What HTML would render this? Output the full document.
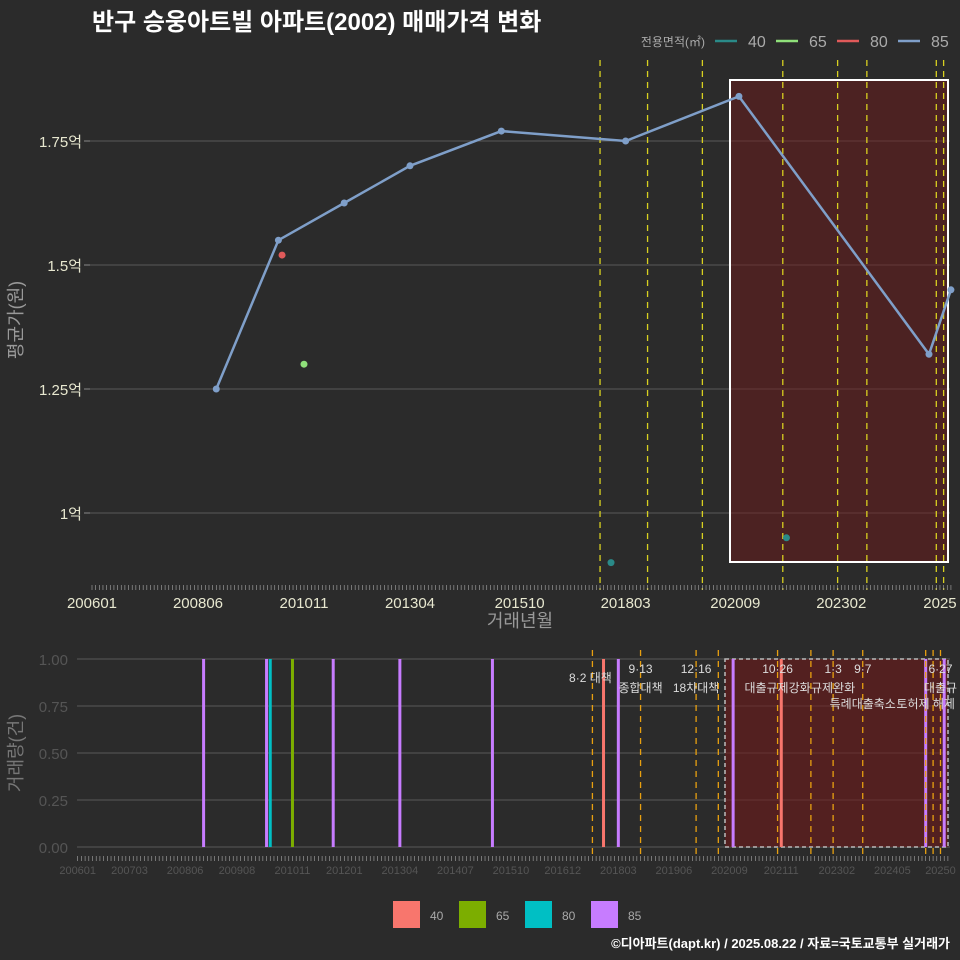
<!DOCTYPE html>
<html><head><meta charset="utf-8">
<style>
html,body{margin:0;padding:0;background:#2b2b2b;}
svg{display:block;font-family:"Liberation Sans","Noto Sans CJK KR",sans-serif;}
</style></head>
<body>
<svg id="c" width="960" height="960" viewBox="0 0 960 960">
<rect x="0" y="0" width="960" height="960" fill="#2b2b2b"/>
<text x="92" y="30" fill="#ffffff" font-size="24" font-weight="bold">반구 승웅아트빌 아파트(2002) 매매가격 변화</text>
<text x="950" y="948" fill="#ffffff" font-size="13" font-weight="bold" text-anchor="end">©디아파트(dapt.kr) / 2025.08.22 / 자료=국토교통부 실거래가</text>
<g id="topg"></g>
<g id="botg"></g>
</svg>
<script>
// ---- data ----
const priceMonths = ["200811","201004","201110","201304","201505","201803","202010","202502","202508"];
const price85 = [1.25,1.55,1.625,1.70,1.77,1.75,1.84,1.32,1.45];
const price80Months = ["201005"]; const price80 = [1.52];
const price65Months = ["201011"]; const price65 = [1.30];
const price40Months = ["201711","202111"]; const price40 = [0.90,0.95];
const yTicks = [1.0,1.25,1.5,1.75];
const yTickLabels = ["1억","1.25억","1.5억","1.75억"];
const topXLabels = ["200601","200806","201011","201304","201510","201803","202009","202302","202505"];
const topXText = ["200601","200806","201011","201304","201510","201803","202009","202302","2025"];
const policyMonths = ["201708","201809","201912","202006","202110","202207","202301","202309","202502","202504","202506"];
const volMonths = ["200811","201004","201005","201011","201110","201304","201505","201711","201803","202010","202111","202502","202507"];
const volSeries = ["85","85","80","65","85","85","85","40","85","85","40","85","85"];
const volValues = [1,1,1,1,1,1,1,1,1,1,1,1,1];
const volYTicks = [0,0.25,0.5,0.75,1];
const volYLabels = ["0.00","0.25","0.50","0.75","1.00"];
const botXLabels = ["200601","200703","200806","200908","201011","201201","201304","201407","201510","201612","201803","201906","202009","202111","202302","202405","202506"];
const botXText = ["200601","200703","200806","200908","201011","201201","201304","201407","201510","201612","201803","201906","202009","202111","202302","202405","20250"];
const policyLabels = [["8·2 대책",""],["9·13","종합대책"],["12·16","18차대책"],["",""],["10·26","대출규제강화"],["",""],["1·3","규제완화"],["9·7","특례대출축소"],["","토허제 해제"],["",""],["6·27","대출규"]];
const seriesNames = ["40","65","80","85"];
const lineColors = {"40":"#2a8a88","65":"#8fe07a","80":"#e05a5a","85":"#7f9fc9"};
const barColors = {"40":"#F8766D","65":"#7CAE00","80":"#00BFC4","85":"#C77CFF"};
// ---- helpers ----
const NS="http://www.w3.org/2000/svg";
function mk(tag,attrs,parent){const e=document.createElementNS(NS,tag);for(const k in attrs)e.setAttribute(k,attrs[k]);parent.appendChild(e);return e;}
function mi(s){return (parseInt(s.slice(0,4))-2006)*12+parseInt(s.slice(4,6))-1;}
const tx=m=>92+m*3.655;
const ty=v=>513-(v-1)*496;
const bx=m=>77.7+m*3.703;
const by=v=>847-v*188;
const topG=document.getElementById('topg'), botG=document.getElementById('botg');
// ---- top chart ----
yTicks.forEach((v,i)=>{
  let g=mk('line',{x1:90,x2:950,y1:ty(v),y2:ty(v),stroke:'#5a5a5a','stroke-width':1},topG);
  
  
  let t=mk('text',{x:82,y:ty(v)+6,fill:'#e8e8d0','font-size':15,'text-anchor':'end'},topG);
  t.textContent=yTickLabels[i];
  
  
  let tk=mk('line',{x1:84,x2:90,y1:ty(v),y2:ty(v),stroke:'#888'},topG);
  
  
});
let box=mk('rect',{x:730,y:80,width:218,height:482,fill:'rgba(110,25,25,0.5)',stroke:'#ffffff','stroke-width':2},topG);


policyMonths.forEach((m,i)=>{
  if(i===3||i===5||i===8) return;
  let l=mk('line',{x1:tx(mi(m)),x2:tx(mi(m)),y1:60,y2:590,stroke:'#d8d020','stroke-width':1.3,'stroke-dasharray':'6,5'},topG);
  
  
});
for(let m=0;m<=235;m++){
  let tk=mk('line',{x1:tx(m),x2:tx(m),y1:585,y2:590,stroke:'#aaa','stroke-width':0.6},topG);
  
  
}
topXLabels.forEach((m,i)=>{
  let t=mk('text',{x:tx(mi(m)),y:608,fill:'#e8e8d0','font-size':15,'text-anchor':'middle'},topG);
  t.textContent=topXText[i];
  
  
});
let xt=mk('text',{x:520,y:627,fill:'#999','font-size':18,'text-anchor':'middle'},topG);
xt.textContent='거래년월';


let yt=mk('text',{x:22,y:320,fill:'#999','font-size':18,'text-anchor':'middle',transform:'rotate(-90 22 320)'},topG);
yt.textContent='평균가(원)';


let pts=priceMonths.map((m,i)=>tx(mi(m))+','+ty(price85[i])).join(' ');
let pl=mk('polyline',{points:pts,fill:'none',stroke:lineColors["85"],'stroke-width':2.5},topG);


function dots(ms,vs,s){ms.forEach((m,i)=>{
  let c=mk('circle',{cx:tx(mi(m)),cy:ty(vs[i]),r:3.5,fill:lineColors[s]},topG);
  
  
});}
dots(priceMonths,price85,"85");dots(price80Months,price80,"80");dots(price65Months,price65,"65");dots(price40Months,price40,"40");
// legend top
let lt=mk('text',{x:705,y:46,fill:'#aaa','font-size':12,'text-anchor':'end'},topG);
lt.textContent='전용면적(㎡)';


seriesNames.forEach((s,i)=>{
  let x0=715+i*61;
  let l=mk('line',{x1:x0,x2:x0+22,y1:41,y2:41,stroke:lineColors[s],'stroke-width':2.5},topG);
  
  
  let t=mk('text',{x:x0+33,y:47,fill:'#aaa','font-size':16},topG);
  t.textContent=s;
  
  
});
// ---- bottom chart ----
volYTicks.forEach((v,i)=>{
  let g=mk('line',{x1:77,x2:950,y1:by(v),y2:by(v),stroke:'#5a5a5a','stroke-width':1},botG);
  
  
  let t=mk('text',{x:68,y:by(v)+6,fill:'#555','font-size':15,'text-anchor':'end'},botG);
  t.textContent=volYLabels[i];
  
  
});
let bbox=mk('rect',{x:725,y:659,width:223,height:188,fill:'rgba(110,25,25,0.6)',stroke:'#bbb','stroke-width':1.5,'stroke-dasharray':'4,3'},botG);


volMonths.forEach((m,i)=>{
  let s=volSeries[i];
  let r=mk('rect',{x:bx(mi(m))-1.5,y:by(volValues[i]),width:3,height:by(0)-by(volValues[i]),fill:barColors[s]},botG);
  
  
});
policyMonths.forEach((m,i)=>{
  let x=bx(mi(m));
  let l=mk('line',{x1:x,x2:x,y1:650,y2:857,stroke:'#e8a010','stroke-width':1.3,'stroke-dasharray':'6,5'},botG);
  
  
  const lb=policyLabels[i];
  if(lb[0]){let t=mk('text',{x:x+(i===0?-2:0),y:i===0?682:673,fill:'#ddd','font-size':12,'text-anchor':'middle'},botG);
    t.textContent=lb[0];
    
    }
  if(lb[1]){let t=mk('text',{x:x,y:i===7||i===8?708:692,fill:'#ddd','font-size':12,'text-anchor':'middle'},botG);
    t.textContent=lb[1];
    
    }
});
for(let m=0;m<=235;m++){
  let tk=mk('line',{x1:bx(m),x2:bx(m),y1:856,y2:861,stroke:'#aaa','stroke-width':0.6},botG);
  
  
}
botXLabels.forEach((m,i)=>{
  let t=mk('text',{x:bx(mi(m)),y:874,fill:'#555','font-size':11,'text-anchor':'middle'},botG);
  t.textContent=botXText[i];
  
  
});
let vyt=mk('text',{x:22,y:753,fill:'#777','font-size':18,'text-anchor':'middle',transform:'rotate(-90 22 753)'},botG);
vyt.textContent='거래량(건)';


seriesNames.forEach((s,i)=>{
  let x0=393+i*66;
  let r=mk('rect',{x:x0,y:901,width:27,height:27,fill:barColors[s]},botG);
  
  
  let t=mk('text',{x:x0+37,y:920,fill:'#aaa','font-size':12},botG);
  t.textContent=s;
  
  
});
</script>
</body></html>
